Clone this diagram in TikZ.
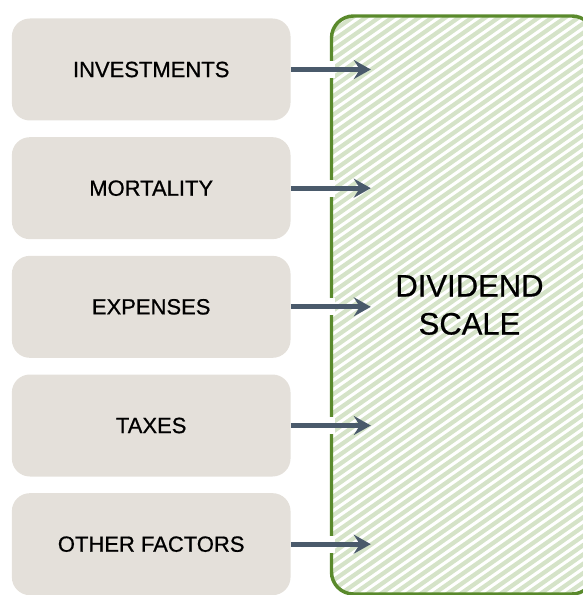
\documentclass[tikz,border=0pt]{standalone}
\usepackage{fontspec}
\setmainfont{Liberation Sans}
\newfontface\labelfont{Liberation Sans}[FakeBold=0.7]
\usetikzlibrary{positioning,arrows.meta}
\definecolor{factorgray}{HTML}{E4E0DA}
\definecolor{flowblue}{HTML}{4A5A6B}
\definecolor{scalegreen}{HTML}{5A8A2C}
\definecolor{stripegreen}{HTML}{D5E3C8}

\begin{document}
\begin{tikzpicture}[
x=0.75pt, y=-0.75pt,
node distance={89pt},
factor/.style = {fill=factorgray, rounded corners=13.5pt, minimum width=209pt, minimum height=76.5pt, font=\labelfont\fontsize{16.5}{20}\selectfont},
flow/.style = {draw=flowblue, line width=3.75pt, -{Stealth[length=12.75pt, width=14.25pt, inset=4.5pt]}} ]
\useasboundingbox (0,0) rectangle (582,595);

% hatched scale box
\begin{scope}
\clip[rounded corners=16.5pt] (331.5,16) rectangle (594,594);
\foreach \i in {-65,...,20}
  \draw[stripegreen, line width=3.2pt] (331+\i*13.3,610) -- ++(871,-610);
\end{scope}
\draw[scalegreen, line width=2.6pt, rounded corners=16.5pt] (331.5,16) rectangle (594,594);
\node[font=\labelfont\fontsize{23.25}{28.5}\selectfont, align=center] (scale) at (469.5,305) {DIVIDEND\\SCALE};

\node[factor] (1) at (151.2,69.5) {INVESTMENTS};
\node[factor] (2) [below of=1] {MORTALITY};
\node[factor] (3) [below of=2] {EXPENSES};
\node[factor] (4) [below of=3] {TAXES};
\node[factor] (5) [below of=4] {OTHER FACTORS};

% gaps in the border, then the arrows
\foreach \n in {1,...,5} {
  \coordinate (in\n) at ([xshift=60pt]\n.east);
  \fill[white] ([xshift=28pt, yshift=-6.4pt]\n.east) rectangle ([xshift=33pt, yshift=6.4pt]\n.east);
  \draw[flow] (\n) -- (in\n);
}

\end{tikzpicture}
\end{document}
